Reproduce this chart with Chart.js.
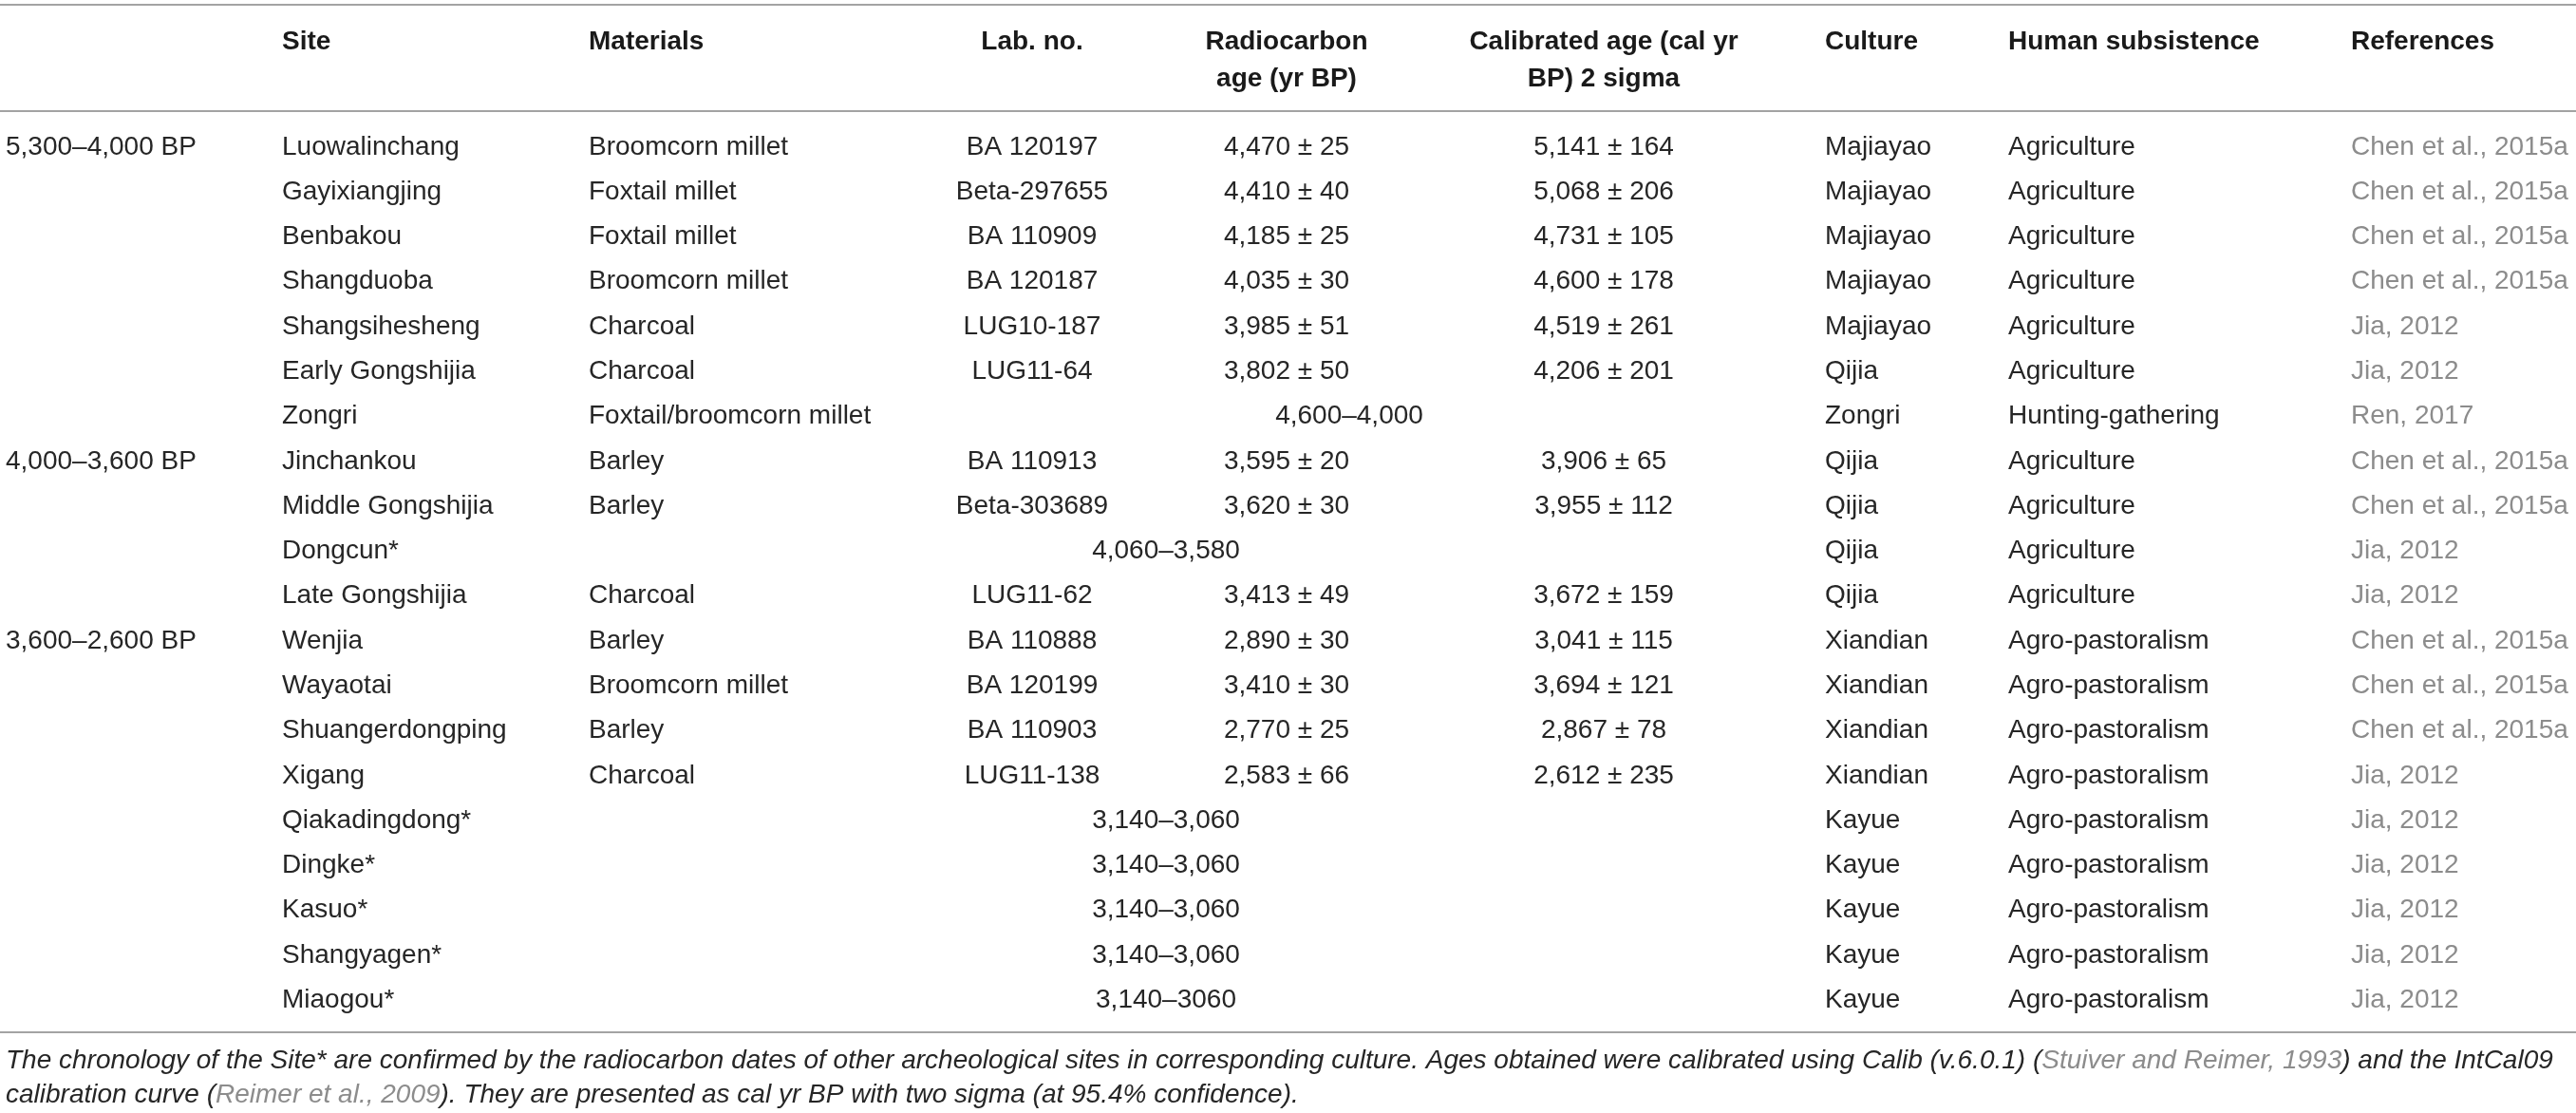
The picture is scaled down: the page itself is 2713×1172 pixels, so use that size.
<!DOCTYPE html>
<html>
<head>
<meta charset="utf-8">
<script src="https://cdn.jsdelivr.net/npm/chart.js@4.4.1/dist/chart.umd.min.js"></script>
<style>
  html, body { margin: 0; padding: 0; background: #fff; }
  #wrap { width: 2713px; height: 1172px; }
</style>
</head>
<body>
<div id="wrap"><canvas id="radiocarbon_table"></canvas></div>
<script>
// --- table contents ---
var headerLine1 = ['', 'Site', 'Materials', 'Lab. no.', 'Radiocarbon', 'Calibrated age (cal yr', 'Culture', 'Human subsistence', 'References']
var headerLine2 = ['', '', '', '', 'age (yr BP)', 'BP) 2 sigma', '', '', '']

var periods = ['5,300–4,000 BP', '', '', '', '', '', '', '4,000–3,600 BP', '', '', '',
  '3,600–2,600 BP', '', '', '', '', '', '', '', '']
var sites = ['Luowalinchang', 'Gayixiangjing', 'Benbakou', 'Shangduoba', 'Shangsihesheng',
  'Early Gongshijia', 'Zongri', 'Jinchankou', 'Middle Gongshijia', 'Dongcun*', 'Late Gongshijia',
  'Wenjia', 'Wayaotai', 'Shuangerdongping', 'Xigang', 'Qiakadingdong*', 'Dingke*', 'Kasuo*',
  'Shangyagen*', 'Miaogou*']
var materials = ['Broomcorn millet', 'Foxtail millet', 'Foxtail millet', 'Broomcorn millet', 'Charcoal',
  'Charcoal', 'Foxtail/broomcorn millet', 'Barley', 'Barley', '', 'Charcoal',
  'Barley', 'Broomcorn millet', 'Barley', 'Charcoal', '', '', '', '', '']
var labNos = ['BA 120197', 'Beta-297655', 'BA 110909', 'BA 120187', 'LUG10-187',
  'LUG11-64', '', 'BA 110913', 'Beta-303689', '', 'LUG11-62',
  'BA 110888', 'BA 120199', 'BA 110903', 'LUG11-138', '', '', '', '', '']
var radiocarbonAges = ['4,470 ± 25', '4,410 ± 40', '4,185 ± 25', '4,035 ± 30', '3,985 ± 51',
  '3,802 ± 50', '', '3,595 ± 20', '3,620 ± 30', '', '3,413 ± 49',
  '2,890 ± 30', '3,410 ± 30', '2,770 ± 25', '2,583 ± 66', '', '', '', '', '']
var calibratedAges = ['5,141 ± 164', '5,068 ± 206', '4,731 ± 105', '4,600 ± 178', '4,519 ± 261',
  '4,206 ± 201', '', '3,906 ± 65', '3,955 ± 112', '', '3,672 ± 159',
  '3,041 ± 115', '3,694 ± 121', '2,867 ± 78', '2,612 ± 235', '', '', '', '', '']
// ages given as one range over merged cells
var mergedAges = ['', '', '', '', '', '', '4,600–4,000', '', '', '4,060–3,580', '',
  '', '', '', '', '3,140–3,060', '3,140–3,060', '3,140–3,060', '3,140–3,060', '3,140–3060']
var cultures = ['Majiayao', 'Majiayao', 'Majiayao', 'Majiayao', 'Majiayao',
  'Qijia', 'Zongri', 'Qijia', 'Qijia', 'Qijia', 'Qijia',
  'Xiandian', 'Xiandian', 'Xiandian', 'Xiandian', 'Kayue', 'Kayue', 'Kayue', 'Kayue', 'Kayue']
var subsistence = ['Agriculture', 'Agriculture', 'Agriculture', 'Agriculture', 'Agriculture',
  'Agriculture', 'Hunting-gathering', 'Agriculture', 'Agriculture', 'Agriculture', 'Agriculture',
  'Agro-pastoralism', 'Agro-pastoralism', 'Agro-pastoralism', 'Agro-pastoralism', 'Agro-pastoralism',
  'Agro-pastoralism', 'Agro-pastoralism', 'Agro-pastoralism', 'Agro-pastoralism']
var references = ['Chen et al., 2015a', 'Chen et al., 2015a', 'Chen et al., 2015a', 'Chen et al., 2015a',
  'Jia, 2012', 'Jia, 2012', 'Ren, 2017', 'Chen et al., 2015a', 'Chen et al., 2015a', 'Jia, 2012',
  'Jia, 2012', 'Chen et al., 2015a', 'Chen et al., 2015a', 'Chen et al., 2015a', 'Jia, 2012',
  'Jia, 2012', 'Jia, 2012', 'Jia, 2012', 'Jia, 2012', 'Jia, 2012']

// footnote runs: [text, isCitation]
var footnoteLine1 = [
  ['The chronology of the Site* are confirmed by the radiocarbon dates of other archeological sites in corresponding culture. Ages obtained were calibrated using Calib (v.6.0.1) (', false],
  ['Stuiver and Reimer, 1993', true],
  [') and the IntCal09', false]]
var footnoteLine2 = [
  ['calibration curve (', false],
  ['Reimer et al., 2009', true],
  ['). They are presented as cal yr BP with two sigma (at 95.4% confidence).', false]]

// --- layout (x in page units, y in row units; row i = body row i) ---
var FONT = "'Liberation Sans', Arial, sans-serif"
var BODY_COLOR = '#262626'
var CITE_COLOR = '#8c8c8c'
var RULE_COLOR = '#a3a3a3'
var headerRows = [-2.339, -1.514]
var ruleRows = [-3.327, -0.964, 19.55]
var footRows = [20.35, 21.11]

var columns = [
  {values: periods, left: 6, align: 'left'},
  {values: sites, left: 297, align: 'left'},
  {values: materials, left: 620, align: 'left'},
  {values: labNos, left: 1006, right: 1168, align: 'center'},
  {values: radiocarbonAges, left: 1168, right: 1542, align: 'center'},
  {values: calibratedAges, left: 1542, right: 1836, align: 'center'},
  {values: cultures, left: 1922, align: 'left'},
  {values: subsistence, left: 2115, align: 'left'},
  {values: references, left: 2476, align: 'left', color: CITE_COLOR}
]

function anchorOf(col) {
  return col.align == 'center' ? (col.left + col.right) / 2 : col.left
}

var datasets = []
columns.forEach(function(col, c) {
  var headPts = []
  if (headerLine1[c] != '') headPts.push({x: anchorOf(col), y: headerRows[0], text: headerLine1[c]})
  if (headerLine2[c] != '') headPts.push({x: anchorOf(col), y: headerRows[1], text: headerLine2[c]})
  datasets.push({
    data: headPts,
    cellStyle: {font: 'bold 28px ' + FONT, color: '#1a1a1a', align: col.align}
  })
  var pts = []
  col.values.forEach(function(v, i) {
    if (v != '') pts.push({x: anchorOf(col), y: i, text: v})
  })
  datasets.push({
    data: pts,
    cellStyle: {font: '28px ' + FONT, color: col.color || BODY_COLOR, align: col.align}
  })
})

// merged cells run from Materials (or Lab. no. when a material is given) to the calibrated column
var mergedPts = []
mergedAges.forEach(function(v, i) {
  if (v == '') return
  var from = materials[i] == '' ? columns[2] : columns[3]
  mergedPts.push({x: (from.left + columns[5].right) / 2, y: i, text: v})
})
datasets.push({data: mergedPts, cellStyle: {font: '28px ' + FONT, color: BODY_COLOR, align: 'center'}})

var tableText = {
  id: 'tableText',
  afterDatasetsDraw: function(chart) {
    var ctx = chart.ctx
    var xs = chart.scales.x, ys = chart.scales.y
    ctx.save()

    // horizontal rules
    ctx.strokeStyle = RULE_COLOR
    ctx.lineWidth = 2
    ruleRows.forEach(function(r) {
      var py = Math.round(ys.getPixelForValue(r))
      ctx.beginPath()
      ctx.moveTo(xs.getPixelForValue(xs.min), py)
      ctx.lineTo(xs.getPixelForValue(xs.max), py)
      ctx.stroke()
    })

    // cell texts at the positions the scales gave the points
    ctx.textBaseline = 'alphabetic'
    chart.data.datasets.forEach(function(ds, d) {
      var meta = chart.getDatasetMeta(d)
      ctx.font = ds.cellStyle.font
      ctx.fillStyle = ds.cellStyle.color
      ctx.textAlign = ds.cellStyle.align
      meta.data.forEach(function(el, j) {
        ctx.fillText(ds.data[j].text, el.x, el.y)
      })
    })

    // footnote
    ctx.font = 'italic 28px ' + FONT
    ctx.textAlign = 'left'
    ;[footnoteLine1, footnoteLine2].forEach(function(runs, k) {
      var px = xs.getPixelForValue(6)
      var py = ys.getPixelForValue(footRows[k])
      runs.forEach(function(run) {
        ctx.fillStyle = run[1] ? CITE_COLOR : BODY_COLOR
        ctx.fillText(run[0], px, py)
        px += ctx.measureText(run[0]).width
      })
    })
    ctx.restore()
  }
}

var ctx = document.getElementById('radiocarbon_table').getContext('2d')
new Chart(ctx, {
  type: 'scatter',
  data: {datasets: datasets},
  options: {
    responsive: true,
    maintainAspectRatio: false,
    animation: false,
    events: [],
    layout: {padding: 0},
    elements: {point: {radius: 0, hoverRadius: 0}},
    plugins: {legend: {display: false}, tooltip: {enabled: false}},
    scales: {
      x: {type: 'linear', display: false, min: 0, max: 2713},
      y: {type: 'linear', display: false, reverse: true, min: -3.439, max: 21.349}
    }
  },
  plugins: [tableText]
})
</script>
</body>
</html>
